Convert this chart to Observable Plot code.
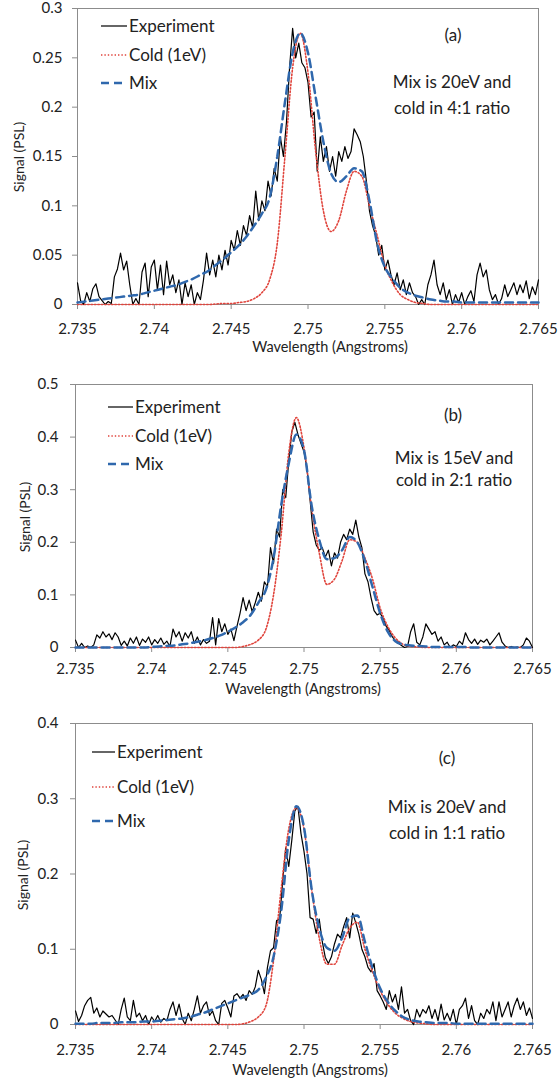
<!DOCTYPE html>
<html>
<head>
<meta charset="utf-8">
<script src="https://cdn.jsdelivr.net/npm/d3@7"></script>
<script src="https://cdn.jsdelivr.net/npm/@observablehq/plot@0.6"></script>
<style>
  html, body { margin: 0; padding: 0; background: #fff; }
  #chart svg { display: block; }
</style>
</head>
<body>
<div id="chart"></div>
<script>
// ---------------- DATA ----------------
const xTicks = [2.735, 2.74, 2.745, 2.75, 2.755, 2.76, 2.765];
const yTicksA = [0, 0.05, 0.1, 0.15, 0.2, 0.25, 0.3];
const yTicksB = [0, 0.1, 0.2, 0.3, 0.4, 0.5];
const yTicksC = [0, 0.1, 0.2, 0.3, 0.4];

const seriesNames = ["Experiment", "Cold (1eV)", "Mix"];
const panelTags = ["(a)", "(b)", "(c)"];
const noteLinesA = ["Mix is 20eV and", "cold in 4:1 ratio"];
const noteLinesB = ["Mix is 15eV and", "cold in 2:1 ratio"];
const noteLinesC = ["Mix is 20eV and", "cold in 1:1 ratio"];
const xTitle = "Wavelength (Angstroms)";
const yTitle = "Signal (PSL)";

// experiment traces: sampled every 0.0002 Å from 2.735
const expStart = 2.735, expStep = 0.0002;
const expA = [
  0.022, 0.004, 0.0, 0.012, 0.003, 0.016, 0.021, 0.008, 0.004, 0.0,
  0.003, 0.001, 0.028, 0.036, 0.052, 0.035, 0.044, 0.02, 0.0, 0.006,
  0.0, 0.033, 0.042, 0.008, 0.038, 0.045, 0.015, 0.04, 0.01, 0.044,
  0.02, 0.03, 0.012, 0.025, 0.0, 0.022, 0.008, 0.02, 0.0, 0.012,
  0.005, 0.025, 0.052, 0.03, 0.045, 0.028, 0.05, 0.035, 0.055, 0.04,
  0.065, 0.055, 0.075, 0.06, 0.08, 0.07, 0.09, 0.078, 0.115, 0.085,
  0.105, 0.095, 0.125, 0.11, 0.138, 0.125, 0.17, 0.15, 0.185, 0.24,
  0.28, 0.25, 0.265, 0.245, 0.24, 0.225, 0.19, 0.195, 0.135, 0.17,
  0.145, 0.16, 0.135, 0.15, 0.13, 0.155, 0.145, 0.16, 0.148, 0.155,
  0.178, 0.172, 0.165, 0.15, 0.125, 0.095, 0.08, 0.07, 0.05, 0.06,
  0.035, 0.045, 0.03, 0.02, 0.032, 0.015, 0.025, 0.01, 0.022, 0.012,
  0.008, 0.0, 0.005, 0.0, 0.02, 0.03, 0.045, 0.02, 0.01, 0.022,
  0.005, 0.015, 0.0, 0.01, 0.002, 0.012, 0.0, 0.008, 0.014, 0.003,
  0.03, 0.042, 0.028, 0.035, 0.015, 0.005, 0.01, 0.0, 0.006, 0.02,
  0.008, 0.015, 0.022, 0.01, 0.02, 0.012, 0.024, 0.006, 0.018, 0.01,
  0.025
];
const expB = [
  0.014, 0.0, 0.008, 0.0, 0.003, 0.0, 0.005, 0.024, 0.018, 0.03,
  0.02, 0.026, 0.015, 0.028, 0.02, 0.004, 0.012, 0.003, 0.018, 0.008,
  0.02, 0.004, 0.016, 0.01, 0.02, 0.005, 0.015, 0.008, 0.018, 0.006,
  0.012, 0.002, 0.035, 0.02, 0.03, 0.012, 0.028, 0.018, 0.03, 0.008,
  0.02, 0.005, 0.015, 0.008, 0.012, 0.057, 0.005, 0.055, 0.03, 0.045,
  0.025, 0.035, 0.013, 0.04, 0.065, 0.095, 0.07, 0.09, 0.068, 0.085,
  0.105, 0.088, 0.125, 0.115, 0.19, 0.16, 0.225, 0.21, 0.3, 0.285,
  0.355, 0.41, 0.428, 0.405, 0.388, 0.372, 0.34, 0.28, 0.22, 0.195,
  0.185, 0.19, 0.172, 0.185, 0.155, 0.18, 0.17, 0.2, 0.215, 0.205,
  0.225, 0.215, 0.242, 0.21, 0.19, 0.14, 0.125, 0.095, 0.07, 0.062,
  0.065, 0.055, 0.04, 0.032, 0.02, 0.013, 0.008, 0.004, 0.0, 0.002,
  0.03, 0.045, 0.01, 0.005, 0.02, 0.045, 0.035, 0.025, 0.03, 0.012,
  0.02, 0.005, 0.01, 0.0, 0.005, 0.002, 0.012, 0.006, 0.028, 0.015,
  0.008, 0.016, 0.006, 0.014, 0.01, 0.016, 0.005, 0.012, 0.02, 0.028,
  0.01, 0.003, 0.0, 0.002, 0.0, 0.001, 0.0, 0.005, 0.018, 0.012,
  0.0
];
const expC = [
  0.018, 0.004, 0.012, 0.025, 0.032, 0.036, 0.015, 0.022, 0.01, 0.018,
  0.014, 0.01, 0.012, 0.006, 0.0, 0.02, 0.035, 0.01, 0.005, 0.032,
  0.01, 0.015, 0.005, 0.012, 0.0, 0.01, 0.004, 0.012, 0.003, 0.008,
  0.005, 0.02, 0.03, 0.012, 0.027, 0.008, 0.0, 0.015, 0.005, 0.02,
  0.038, 0.015, 0.025, 0.03, 0.012, 0.018, 0.005, 0.0, 0.028, 0.032,
  0.022, 0.01, 0.038, 0.041, 0.035, 0.04, 0.032, 0.045, 0.04, 0.05,
  0.072, 0.06, 0.041, 0.076, 0.098, 0.102, 0.138, 0.14, 0.19, 0.235,
  0.21, 0.245, 0.284, 0.29, 0.254, 0.23, 0.2, 0.142, 0.14, 0.121,
  0.14, 0.11, 0.089, 0.081, 0.09, 0.107, 0.12, 0.115, 0.13, 0.142,
  0.115, 0.148, 0.135, 0.12, 0.1, 0.09, 0.076, 0.07, 0.081, 0.045,
  0.038, 0.03, 0.02, 0.045, 0.03, 0.04, 0.02, 0.05, 0.015, 0.02,
  0.005, 0.0, 0.02, 0.01, 0.02, 0.015, 0.025, 0.008, 0.02, 0.005,
  0.027, 0.006, 0.015, 0.005, 0.02, 0.0, 0.02, 0.025, 0.035, 0.008,
  0.025, 0.005, 0.0, 0.015, 0.008, 0.02, 0.014, 0.03, 0.005, 0.03,
  0.01, 0.02, 0.03, 0.01, 0.025, 0.035, 0.02, 0.03, 0.012, 0.022,
  0.008
];

// model curves: sampled every 0.0005 Å from 2.735
const modelStart = 2.735, modelStep = 0.0005;
const coldA = [
  0, 0, 0, 0, 0, 0, 0, 0, 0, 0,
  0, 0, 0, 0, 0, 0, 0, 0, 0.0005, 0.001,
  0.001, 0.002, 0.003, 0.006, 0.012, 0.025, 0.062, 0.15, 0.24, 0.275,
  0.235, 0.155, 0.095, 0.074, 0.085, 0.115, 0.135, 0.13, 0.1, 0.07,
  0.04, 0.022, 0.01, 0.005, 0.002, 0.001, 0, 0, 0, 0,
  0, 0, 0, 0, 0, 0, 0, 0, 0, 0,
  0
];
const mixA = [
  0.002, 0.003, 0.004, 0.005, 0.006, 0.007, 0.008, 0.009, 0.01, 0.012,
  0.014, 0.016, 0.018, 0.02, 0.023, 0.026, 0.03, 0.034, 0.04, 0.046,
  0.053, 0.06, 0.069, 0.08, 0.092, 0.108, 0.15, 0.205, 0.255, 0.275,
  0.255, 0.21, 0.165, 0.133, 0.124, 0.13, 0.138, 0.135, 0.105, 0.062,
  0.038, 0.026, 0.017, 0.012, 0.009, 0.007, 0.005, 0.004, 0.003, 0.003,
  0.002, 0.002, 0.002, 0.002, 0.002, 0.002, 0.002, 0.002, 0.002, 0.002,
  0.002
];
const coldB = [
  0, 0, 0, 0, 0, 0, 0, 0, 0, 0,
  0, 0, 0, 0, 0, 0, 0, 0, 0, 0,
  0, 0, 0.002, 0.006, 0.014, 0.035, 0.1, 0.215, 0.37, 0.437,
  0.38, 0.265, 0.18, 0.12, 0.13, 0.165, 0.205, 0.2, 0.17, 0.13,
  0.075, 0.04, 0.018, 0.006, 0.002, 0.001, 0, 0, 0, 0,
  0, 0, 0, 0, 0, 0, 0, 0, 0, 0,
  0
];
const mixB = [
  0, 0, 0, 0, 0, 0, 0, 0, 0, 0,
  0.001, 0.002, 0.003, 0.004, 0.006, 0.008, 0.011, 0.014, 0.018, 0.023,
  0.03, 0.038, 0.048, 0.062, 0.085, 0.11, 0.17, 0.27, 0.35, 0.405,
  0.375, 0.27, 0.205, 0.168, 0.17, 0.185, 0.21, 0.2, 0.165, 0.115,
  0.065, 0.03, 0.012, 0.006, 0.004, 0.003, 0.002, 0.001, 0.001, 0.001,
  0.001, 0.001, 0, 0, 0, 0, 0, 0, 0, 0,
  0
];
const coldC = [
  0, 0, 0, 0, 0, 0, 0, 0, 0, 0,
  0, 0, 0, 0, 0, 0, 0, 0, 0, 0,
  0, 0, 0.001, 0.004, 0.01, 0.025, 0.085, 0.18, 0.26, 0.288,
  0.26, 0.18, 0.115, 0.08, 0.08, 0.105, 0.128, 0.136, 0.1, 0.07,
  0.045, 0.027, 0.015, 0.008, 0.004, 0.002, 0.001, 0, 0, 0,
  0, 0, 0, 0, 0, 0, 0, 0, 0, 0,
  0
];
const mixC = [
  0.001, 0.001, 0.001, 0.002, 0.002, 0.002, 0.003, 0.003, 0.003, 0.004,
  0.004, 0.005, 0.006, 0.007, 0.008, 0.01, 0.013, 0.016, 0.02, 0.024,
  0.028, 0.032, 0.036, 0.04, 0.046, 0.062, 0.09, 0.15, 0.245, 0.29,
  0.262, 0.18, 0.128, 0.102, 0.098, 0.115, 0.142, 0.145, 0.11, 0.075,
  0.048, 0.03, 0.018, 0.01, 0.006, 0.004, 0.003, 0.002, 0.002, 0.002,
  0.001, 0.001, 0.001, 0.001, 0.001, 0.001, 0.001, 0.001, 0.001, 0.001,
  0.001
];

// ---------------- STYLE ----------------
const FONT = "Lato, 'Open Sans', sans-serif";
const AXIS_GREY = "#8c8c8c";
const TEXT = "#222";
const EXP_COLOR = "#000000";
const COLD_COLOR = "#e0443c";
const MIX_COLOR = "#2f68ad";
const COLD_DASH = "1.4,2";
const MIX_DASH = "8,5";
const fmt = d3.format("~g");

function panel(cfg) {
  const exp = cfg.exp.map((v, i) => ({x: expStart + i * expStep, y: v}));
  const cold = cfg.cold.map((v, i) => ({x: modelStart + i * modelStep, y: v}));
  const mix = cfg.mix.map((v, i) => ({x: modelStart + i * modelStep, y: v}));

  const svg = Plot.plot({
    width: 559,
    height: cfg.height,
    marginTop: cfg.mt, marginBottom: cfg.mb, marginLeft: cfg.ml, marginRight: cfg.mr,
    style: `font-family: ${FONT}; font-size: 15px; color: ${TEXT}; background: #fff; overflow: visible;`,
    x: {domain: [2.735, 2.765]},
    y: {domain: [0, cfg.yMax]},
    marks: [
      Plot.frame({stroke: AXIS_GREY, strokeWidth: 1}),
      Plot.axisX({ticks: xTicks, tickFormat: fmt, tickSize: 5, tickPadding: cfg.xPad,
                  stroke: AXIS_GREY, fill: TEXT, label: null}),
      Plot.axisY({ticks: cfg.yTicks, tickFormat: fmt, tickSize: 5, tickPadding: cfg.yPad,
                  stroke: AXIS_GREY, fill: TEXT, label: null}),
      Plot.line(exp, {x: "x", y: "y", stroke: EXP_COLOR, strokeWidth: 1.2}),
      Plot.line(cold, {x: "x", y: "y", stroke: COLD_COLOR, strokeWidth: 1.6,
                       strokeDasharray: COLD_DASH, curve: "monotone-x"}),
      Plot.line(mix, {x: "x", y: "y", stroke: MIX_COLOR, strokeWidth: 2.5,
                      strokeDasharray: MIX_DASH, curve: "monotone-x"})
    ]
  });

  const s = d3.select(svg);
  const addText = (x, y, str, size, anchor) =>
    s.append("text").attr("x", x).attr("y", y).attr("dy", "0.35em")
      .attr("text-anchor", anchor).attr("font-size", size).attr("fill", TEXT)
      .attr("font-family", FONT).text(str);

  // legend
  const L = cfg.legend;
  const styles = [
    {stroke: EXP_COLOR, w: 1.2, dash: null},
    {stroke: COLD_COLOR, w: 1.6, dash: COLD_DASH},
    {stroke: MIX_COLOR, w: 2.5, dash: MIX_DASH}
  ];
  seriesNames.forEach((name, i) => {
    const y = L.ys[i];
    const ln = s.append("line")
      .attr("x1", L.x0).attr("x2", L.x1).attr("y1", y).attr("y2", y)
      .attr("stroke", styles[i].stroke).attr("stroke-width", styles[i].w);
    if (styles[i].dash) ln.attr("stroke-dasharray", styles[i].dash);
    addText(L.xt, y, name, 17, "start");
  });
  // panel tag and note
  const N = cfg.note;
  addText(N.tagX, N.tagY, cfg.tag, 17, "middle");
  cfg.lines.forEach((t, i) => addText(N.x, N.ys[i], t, 17, "middle"));
  // axis titles
  addText(cfg.xt[0], cfg.xt[1], xTitle, 14.5, "middle");
  s.append("text")
    .attr("transform", `translate(${cfg.yt[0]},${cfg.yt[1]}) rotate(-90)`)
    .attr("dy", "0.35em").attr("text-anchor", "middle").attr("font-size", 14)
    .attr("fill", TEXT).attr("font-family", FONT).text(yTitle);
  return svg;
}

const chart = document.getElementById("chart");
chart.appendChild(panel({
  exp: expA, cold: coldA, mix: mixA, yMax: 0.3, yTicks: yTicksA,
  height: 360, mt: 8, mb: 56, ml: 77, mr: 21, xPad: 13.5, yPad: 10,
  legend: {x0: 101, x1: 127, xt: 129, ys: [26, 55, 83]},
  tag: panelTags[0], lines: noteLinesA,
  note: {tagX: 453, tagY: 35, x: 452, ys: [82, 108]},
  xt: [330, 347], yt: [19, 157]
}));
chart.appendChild(panel({
  exp: expB, cold: coldB, mix: mixB, yMax: 0.5, yTicks: yTicksB,
  height: 340, mt: 24, mb: 53, ml: 75, mr: 27, xPad: 10.5, yPad: 12,
  legend: {x0: 108, x1: 133, xt: 135, ys: [47, 76, 104]},
  tag: panelTags[1], lines: noteLinesB,
  note: {tagX: 453, tagY: 55, x: 454, ys: [98, 120]},
  xt: [303, 329], yt: [25, 157]
}));
chart.appendChild(panel({
  exp: expC, cold: coldC, mix: mixC, yMax: 0.4, yTicks: yTicksC,
  height: 387, mt: 23, mb: 63, ml: 75, mr: 27, xPad: 14.5, yPad: 12,
  legend: {x0: 92, x1: 115, xt: 117, ys: [52, 87, 121]},
  tag: panelTags[2], lines: noteLinesC,
  note: {tagX: 447, tagY: 58, x: 447, ys: [107, 133]},
  xt: [310, 370], yt: [23, 175]
}));
</script>
</body>
</html>
